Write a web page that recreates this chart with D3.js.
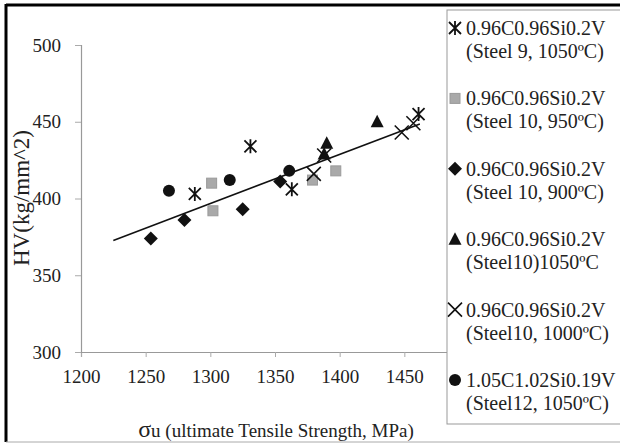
<!DOCTYPE html>
<html>
<head>
<meta charset="utf-8">
<script src="https://cdn.jsdelivr.net/npm/d3@7"></script>
<style>
  body { margin: 0; background: #fff; }
  svg text { font-family: "Liberation Serif", "DejaVu Serif", serif; }
</style>
</head>
<body>
<div id="chart"></div>
<script>
// tick values
const xTicks = [1200, 1250, 1300, 1350, 1400, 1450];
const yTicks = [300, 350, 400, 450, 500];

// series values [sigma_u, HV]
const steel9_1050 = [[1288, 403], [1331, 434], [1363, 406], [1461, 455]];
const steel10_950 = [[1301, 410], [1302, 392], [1379, 412], [1397, 418]];
const steel10_900 = [[1254, 374], [1280, 386], [1325, 393], [1354, 411]];
const steel10_1050 = [[1388, 429], [1390, 436], [1429, 450]];
const steel10_1000 = [[1380, 416], [1388, 428], [1448, 443], [1457, 449]];
const steel12_1050 = [[1268, 405], [1315, 412], [1361, 418]];

// linear trend line end points
const trendX = [1225, 1462];
const trendY = [372.7, 448.6];

const legendLabels = [
  ["0.96C0.96Si0.2V", "(Steel 9, 1050ºC)"],
  ["0.96C0.96Si0.2V", "(Steel 10, 950ºC)"],
  ["0.96C0.96Si0.2V", "(Steel 10, 900ºC)"],
  ["0.96C0.96Si0.2V", "(Steel10)1050ºC"],
  ["0.96C0.96Si0.2V", "(Steel10, 1000ºC)"],
  ["1.05C1.02Si0.19V", "(Steel12, 1050ºC)"]
];

const series = [
  { data: steel9_1050, shape: "asterisk" },
  { data: steel10_950, shape: "square" },
  { data: steel10_900, shape: "diamond" },
  { data: steel10_1050, shape: "triangle" },
  { data: steel10_1000, shape: "cross" },
  { data: steel12_1050, shape: "circle" }
];

const width = 620, height = 445;
const serif = "'Liberation Serif', 'DejaVu Serif', serif";

const svg = d3.select("#chart").append("svg")
  .attr("width", width)
  .attr("height", height)
  .attr("font-family", serif);

svg.append("rect").attr("width", width).attr("height", height).attr("fill", "#fff");

// Scales
const x = d3.scaleLinear().domain([1200, 1500]).range([81, 469]);
const y = d3.scaleLinear().domain([300, 500]).range([352, 45]);

// Axes
const xAxis = svg.append("g")
  .attr("transform", "translate(0," + y(300) + ")")
  .call(d3.axisBottom(x).tickValues(xTicks).tickSize(5).tickPadding(13).tickFormat(d3.format("d")));
const yAxis = svg.append("g")
  .attr("transform", "translate(" + x(1200) + ",0)")
  .call(d3.axisLeft(y).tickValues(yTicks).tickSize(6).tickPadding(14).tickFormat(d3.format("d")));

[xAxis, yAxis].forEach((g) => {
  g.attr("font-family", serif).attr("font-size", 19);
  g.select(".domain").attr("stroke", "#999").attr("stroke-width", 1.2);
  g.selectAll(".tick line").attr("stroke", "#aaa");
  g.selectAll(".tick text").attr("fill", "#222");
});

// Trend line
const line = d3.line().x((d) => x(d[0])).y((d) => y(d[1]));
svg.append("path")
  .datum(trendX.map((v, i) => [v, trendY[i]]))
  .attr("d", line)
  .attr("fill", "none")
  .attr("stroke", "#111")
  .attr("stroke-width", 1.6);

// Marker drawing
function drawMarker(g, shape) {
  const s = 6;
  if (shape === "asterisk") {
    g.append("path")
      .attr("d", `M${-s},${-s}L${s},${s}M${-s},${s}L${s},${-s}M0,${-s - 1}L0,${s + 1}`)
      .attr("stroke", "#111").attr("stroke-width", 1.8).attr("fill", "none");
  } else if (shape === "square") {
    g.append("rect")
      .attr("x", -5).attr("y", -5).attr("width", 10).attr("height", 10)
      .attr("fill", "#a9a9a9").attr("stroke", "#9a9a9a");
  } else if (shape === "diamond") {
    g.append("path")
      .attr("d", `M0,-7L7,0L0,7L-7,0Z`)
      .attr("fill", "#111");
  } else if (shape === "triangle") {
    g.append("path")
      .attr("d", `M0,-7L6.5,5.5L-6.5,5.5Z`)
      .attr("fill", "#111");
  } else if (shape === "cross") {
    g.append("path")
      .attr("d", `M${-s - 1},${-s - 1}L${s + 1},${s + 1}M${-s - 1},${s + 1}L${s + 1},${-s - 1}`)
      .attr("stroke", "#111").attr("stroke-width", 1.6).attr("fill", "none");
  } else if (shape === "circle") {
    g.append("circle").attr("r", 6).attr("fill", "#111");
  }
}

series.forEach((s) => {
  svg.append("g")
    .selectAll("g")
    .data(s.data)
    .join("g")
    .attr("transform", (d) => `translate(${x(d[0])},${y(d[1])})`)
    .each(function () { drawMarker(d3.select(this), s.shape); });
});

// Legend
const legend = svg.append("g");
legend.append("rect")
  .attr("x", 447).attr("y", 10)
  .attr("width", 190).attr("height", 414)
  .attr("fill", "#fff")
  .attr("stroke", "#999");

const rows = legend.selectAll("g.row")
  .data(series)
  .join("g")
  .attr("class", "row")
  .attr("transform", (d, i) => `translate(0,${35 + i * 70.4})`);

rows.append("g")
  .attr("transform", "translate(455,-7)")
  .each(function (d) { drawMarker(d3.select(this), d.shape); });

rows.append("text")
  .attr("x", 466)
  .attr("y", 0)
  .attr("font-size", 20)
  .attr("fill", "#222")
  .text((d, i) => legendLabels[i][0]);

rows.append("text")
  .attr("x", 466)
  .attr("y", 23)
  .attr("font-size", 20)
  .attr("fill", "#222")
  .text((d, i) => legendLabels[i][1]);

// Axis titles
const xTitle = svg.append("text")
  .attr("x", 276)
  .attr("y", 437)
  .attr("text-anchor", "middle")
  .attr("font-size", 19)
  .attr("fill", "#222");
xTitle.append("tspan").attr("font-size", 24).text("σ");
xTitle.append("tspan").text("u (ultimate Tensile Strength, MPa)");

svg.append("text")
  .attr("transform", "translate(29,198) rotate(-90)")
  .attr("text-anchor", "middle")
  .attr("font-size", 23)
  .attr("fill", "#222")
  .text("HV(kg/mm^2)");

// Outer frame
svg.append("line").attr("x1", 6).attr("x2", 620).attr("y1", 5).attr("y2", 5)
  .attr("stroke", "#000").attr("stroke-width", 3);
svg.append("line").attr("x1", 6).attr("x2", 6).attr("y1", 4).attr("y2", 442)
  .attr("stroke", "#000").attr("stroke-width", 3);
svg.append("line").attr("x1", 6).attr("x2", 620).attr("y1", 442).attr("y2", 442)
  .attr("stroke", "#aaa").attr("stroke-width", 1);
</script>
</body>
</html>
